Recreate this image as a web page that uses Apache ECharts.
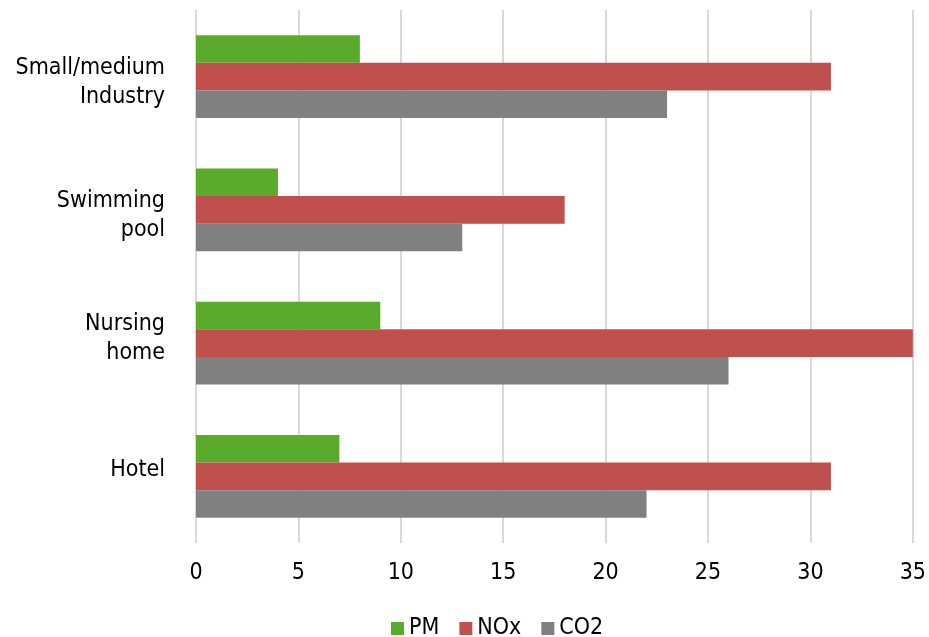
<!DOCTYPE html>
<html>
<head>
<meta charset="utf-8">
<style>
  html, body { margin: 0; padding: 0; background: #ffffff; }
  #chart { width: 929px; height: 637px; }
</style>
<script src="https://cdn.jsdelivr.net/npm/echarts@6/dist/echarts.min.js"></script>
</head>
<body>
<div id="chart"></div>
<script>
// Emissions by building type
const categories = ['Hotel', 'Nursing\nhome', 'Swimming\npool', 'Small/medium\nIndustry'];
const pmValues  = [7, 9, 4, 8];
const noxValues = [31, 35, 18, 31];
const co2Values = [22, 26, 13, 23];
const xTicks = [0, 5, 10, 15, 20, 25, 30, 35];

// vertical nudge (px, positive = down) for each category label
const labelShift = [-6, -5, 6, 6];

const FONT = '"DejaVu Sans Condensed", "DejaVu Sans", sans-serif';
const LABEL_SIZE = 23;
const LINE_H = 29;

// one rich style per category, padding moves the text inside its fixed-height line
const rich = {};
labelShift.forEach((d, i) => {
  rich['r' + i] = {
    fontFamily: FONT,
    fontSize: LABEL_SIZE,
    color: '#000000',
    lineHeight: LINE_H,
    align: 'right',
    padding: d >= 0 ? [2 * d, 0, 0, 0] : [0, 0, -2 * d, 0]
  };
});

const chart = echarts.init(document.getElementById('chart'), null, { renderer: 'canvas' });

chart.setOption({
  animation: false,
  backgroundColor: '#ffffff',
  textStyle: { fontFamily: FONT },
  grid: { left: 196, right: 16, top: 10, bottom: 94, containLabel: false },
  legend: {
    top: 612,
    left: 386,
    padding: [5, 0, 5, 5],
    itemWidth: 13,
    itemHeight: 13,
    itemGap: 20,
    icon: 'rect',
    textStyle: { fontFamily: FONT, fontSize: 23, color: '#000000' },
    data: ['PM', 'NOx', 'CO2']
  },
  xAxis: {
    type: 'value',
    min: xTicks[0],
    max: xTicks[xTicks.length - 1],
    interval: xTicks[1] - xTicks[0],
    axisLine: { show: false },
    axisTick: { show: false },
    axisLabel: { fontFamily: FONT, fontSize: LABEL_SIZE, color: '#000000', margin: 19 },
    splitLine: { show: true, lineStyle: { color: '#d9d9d9', width: 2 } }
  },
  yAxis: {
    type: 'category',
    data: categories,
    axisLine: { show: false },
    axisTick: { show: false },
    axisLabel: {
      fontFamily: FONT,
      fontSize: LABEL_SIZE,
      color: '#000000',
      margin: 31,
      lineHeight: LINE_H,
      align: 'right',
      formatter: (value, index) => value.split('\n').map(s => '{r' + index + '|' + s + '}').join('\n'),
      rich: rich
    },
    splitLine: { show: false }
  },
  series: [
    { name: 'PM',  type: 'bar', data: pmValues,  itemStyle: { color: '#5aab2c' }, barGap: '0%', barCategoryGap: '38%' },
    { name: 'NOx', type: 'bar', data: noxValues, itemStyle: { color: '#c0504d' } },
    { name: 'CO2', type: 'bar', data: co2Values, itemStyle: { color: '#808080' } }
  ]
});
</script>
</body>
</html>
